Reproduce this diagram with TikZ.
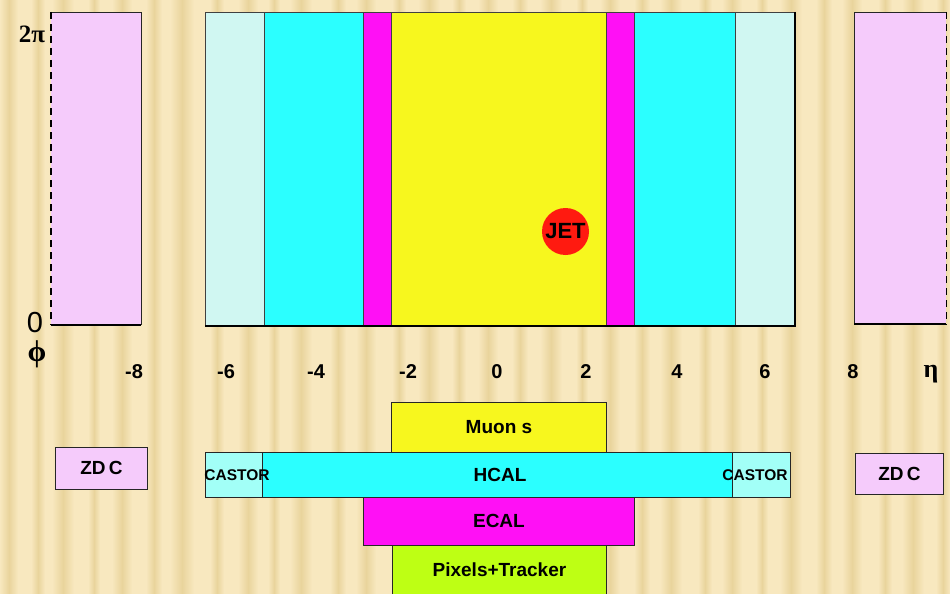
\documentclass[tikz,border=0pt]{standalone}
\usepackage{fontspec}
\setmainfont{Liberation Sans}
\newfontfamily\serifb{Liberation Serif}
\usetikzlibrary{shapes.geometric}
\definecolor{bgA}{HTML}{F8E8BF}
\definecolor{bgB}{HTML}{E9D49C}
\definecolor{lcyan}{HTML}{D0F7F2}
\definecolor{cyanc}{HTML}{2BFFFF}
\definecolor{magc}{HTML}{FF10F5}
\definecolor{yelc}{HTML}{F7F71E}
\definecolor{pinkc}{HTML}{F5CBFB}
\definecolor{greenc}{HTML}{BEFF14}
\definecolor{castc}{HTML}{A2FFF7}
\definecolor{jetc}{HTML}{FF1A10}
\begin{document}
\begin{tikzpicture}[x=1pt,y=-1pt,
  band/.style={draw=black!75, line width=0.7pt, inner sep=0pt, anchor=north west},
  lbox/.style={draw=black!85, line width=0.9pt, inner sep=0pt, anchor=north west},
  lab/.style={font=\bfseries\fontsize{19}{19}\selectfont, inner sep=0pt},
  axl/.style={font=\bfseries\fontsize{20}{20}\selectfont, inner sep=0pt},
  edge/.style={line width=0.8pt, black!85},
  thick edge/.style={line width=2pt, black},
  dashedge/.style={line width=1.4pt, black, dash pattern=on 7pt off 5pt}]
\useasboundingbox (0,0) rectangle (950,594);
% background
\fill[bgA] (0,0) rectangle (950,594);
\foreach \x/\w in {0/18,31/14,52/22,88/12,112/20,146/16,170/24,210/14,238/20,268/12,290/22,330/16,356/20,392/14,418/22,452/14,478/20,512/16,540/22,576/12,600/20,634/16,660/22,698/14,722/20,756/12,780/22,816/16,842/20,878/14,902/22,936/14} {
  \shade[left color=bgA, right color=bgA, middle color=bgB] (\x,0) rectangle ({\x+\w},594);
}
% ---- top panel: eta-phi map
\node[band, fill=lcyan, minimum width=59, minimum height=314] (b1) at (205,12) {};
\node[band, fill=cyanc, minimum width=99, minimum height=314] (b2) at (264,12) {};
\node[band, fill=magc,  minimum width=28, minimum height=314] (b3) at (363,12) {};
\node[band, fill=yelc,  minimum width=215, minimum height=314] (b4) at (391,12) {};
\node[band, fill=magc,  minimum width=28, minimum height=314] (b5) at (606,12) {};
\node[band, fill=cyanc, minimum width=101, minimum height=314] (b6) at (634,12) {};
\node[band, fill=lcyan, minimum width=60, minimum height=314] (b7) at (735,12) {};
\node[inner sep=0pt, minimum width=590, minimum height=314, anchor=north west] (frame) at (205,12) {};
\draw[thick edge] (frame.north east) -- (frame.south east) -- (frame.south west);
% JET
\node[circle, fill=jetc, minimum size=47, inner sep=0pt] (jet) at (565.5,231.5) {};
\node[font=\bfseries\fontsize{22}{22}\selectfont, inner sep=0pt] (jett) at (jet.center) {JET};
% ZDC panels
\node[inner sep=0pt, fill=pinkc, minimum width=90, minimum height=313, anchor=north west] (zl) at (51,12) {};
\draw[edge] (zl.north west) -- (zl.north east) -- (zl.south east);
\draw[thick edge] (zl.south west) -- (zl.south east);
\draw[dashedge] (zl.north west) -- (zl.south west);
\node[inner sep=0pt, fill=pinkc, minimum width=92, minimum height=312, anchor=north west] (zr) at (854,12) {};
\draw[edge] (zr.north east) -- (zr.north west) -- (zr.south west);
\draw[thick edge] (zr.south west) -- (zr.south east);
\draw[dashedge] (zr.north east) -- (zr.south east);
% axis labels
\node[font=\serifb\bfseries\fontsize{25}{25}\selectfont, inner sep=0pt] (twopi) at (32,34) {2π};
\node[font=\fontsize{29}{29}\selectfont, inner sep=0pt] (zero) at (35,323) {0};
\node[font=\serifb\bfseries\fontsize{30}{30}\selectfont, inner sep=0pt] (phi) at (37,354) {ϕ};
\node[axl] (m8) at (134,372) {-8};
\node[axl] (m6) at (226,372) {-6};
\node[axl] (m4) at (316,372) {-4};
\node[axl] (m2) at (408,372) {-2};
\node[axl] (p0) at (497,372) {0};
\node[axl] (p2) at (586,372) {2};
\node[axl] (p4) at (677,372) {4};
\node[axl] (p6) at (765,372) {6};
\node[axl] (p8) at (853,372) {8};
\node[font=\serifb\bfseries\fontsize{26}{26}\selectfont, inner sep=0pt] (eta) at (931,374) {η};
% ---- bottom: detector layout
\node[lbox, fill=yelc, minimum width=215, minimum height=50] (muons) at (391,402) {};
\node[lab] (muonst) at (muons.center) {Muon s};
\node[lbox, fill=greenc, minimum width=214, minimum height=60] (pix) at (392,545) {};
\node[lab] (pixt) at ([yshift=-25]pix.north) {Pixels+Tracker};
\node[lbox, fill=magc, minimum width=271, minimum height=48] (ecal) at (363,497) {};
\node[lab] (ecalt) at (ecal.center) {ECAL};
\node[lbox, fill=cyanc, minimum width=585, minimum height=45] (hcal) at (205,452) {};
\node[lbox, fill=castc, minimum width=57, minimum height=45] (castl) at (205,452) {};
\node[lbox, fill=castc, minimum width=58, minimum height=45] (castr) at (732,452) {};
\node[lab] (hcalt) at (500,475) {HCAL};
\node[font=\bfseries\fontsize{15.5}{15.5}\selectfont, inner sep=0pt] (castlt) at (237,475) {CASTOR};
\node[font=\bfseries\fontsize{15.5}{15.5}\selectfont, inner sep=0pt] (castrt) at (755,475) {CASTOR};
\node[lbox, fill=pinkc, minimum width=92, minimum height=42] (zdcl) at (55,447) {};
\node[lab] (zdclt) at (zdcl.center) {ZD\,C};
\node[lbox, fill=pinkc, minimum width=88, minimum height=41] (zdcr) at (855,453) {};
\node[lab] (zdcrt) at (zdcr.center) {ZD\,C};
\end{tikzpicture}
\end{document}
